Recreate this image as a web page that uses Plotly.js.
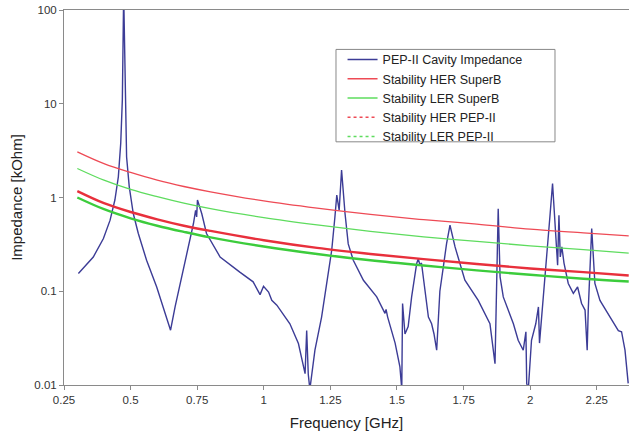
<!DOCTYPE html>
<html>
<head>
<meta charset="utf-8">
<script src="https://cdn.plot.ly/plotly-3.0.1.min.js"></script>
<style>html,body{margin:0;padding:0;background:#fff;}#chart{width:629px;height:436px;}</style>
</head>
<body>
<div id="chart"></div>
<script>
// PEP-II cavity impedance (GHz, kOhm)
var cavFreq = [0.304,0.36,0.398,0.423,0.441,0.454,0.463,0.469,0.474,0.4816,0.485,0.495,0.51,0.529,0.56,0.598,0.623,0.65,0.667,0.692,0.717,0.736,0.744,0.748,0.751,0.767,0.785,0.836,0.91,0.96,0.986,0.999,1.018,1.03,1.049,1.098,1.13,1.155,1.161,1.167,1.173,1.192,1.217,1.236,1.255,1.267,1.274,1.283,1.292,1.305,1.317,1.336,1.374,1.424,1.455,1.459,1.465,1.493,1.511,1.518,1.521,1.53,1.542,1.555,1.561,1.574,1.58,1.586,1.592,1.61,1.618,1.63,1.639,1.649,1.661,1.674,1.686,1.699,1.718,1.755,1.805,1.849,1.868,1.88,1.887,1.899,1.937,1.955,1.974,1.984,1.987,1.993,2.005,2.021,2.031,2.035,2.05,2.062,2.074,2.084,2.097,2.103,2.108,2.113,2.119,2.127,2.143,2.162,2.178,2.193,2.206,2.214,2.218,2.224,2.231,2.243,2.262,2.3,2.331,2.343,2.356,2.368];
var cavZ = [0.155,0.232,0.365,0.573,0.94,1.66,3.8,11,150,11,2.7,1.3,0.675,0.413,0.214,0.111,0.068,0.0384,0.068,0.142,0.297,0.528,0.73,0.62,0.94,0.675,0.413,0.232,0.16,0.126,0.092,0.113,0.098,0.08,0.071,0.045,0.0277,0.0132,0.038,0.013,0.009,0.0235,0.053,0.121,0.274,0.62,1.06,0.73,1.96,0.675,0.32,0.214,0.131,0.087,0.058,0.064,0.053,0.028,0.0156,0.009,0.074,0.035,0.042,0.087,0.111,0.198,0.223,0.19,0.2,0.087,0.053,0.045,0.035,0.0235,0.1,0.182,0.32,0.506,0.297,0.131,0.08,0.045,0.0169,0.76,0.142,0.087,0.045,0.03,0.0235,0.037,0.0104,0.009,0.03,0.045,0.068,0.028,0.1,0.232,0.62,1.41,0.413,0.19,0.647,0.232,0.297,0.2,0.121,0.095,0.111,0.074,0.063,0.0235,0.063,0.182,0.467,0.121,0.08,0.053,0.038,0.037,0.0235,0.0104];

// Stability thresholds (GHz, kOhm)
var stabFreq = [0.3,0.4,0.5,0.6,0.7,0.8,1.0,1.2,1.4,1.6,1.8,2.0,2.2,2.37];
var herSuperB = [3.07,2.3,1.85,1.53,1.31,1.15,0.92,0.77,0.66,0.58,0.52,0.46,0.42,0.39];
var lerSuperB = [2.04,1.53,1.22,1.02,0.87,0.76,0.61,0.51,0.435,0.38,0.34,0.305,0.278,0.255];
var herPEP = [1.17,0.87,0.70,0.585,0.50,0.44,0.35,0.29,0.25,0.22,0.195,0.175,0.16,0.147];
var lerPEP = [1.0,0.75,0.60,0.50,0.43,0.375,0.30,0.25,0.214,0.188,0.167,0.15,0.136,0.127];

var xTicks = [0.25,0.5,0.75,1,1.25,1.5,1.75,2,2.25];
var xTickText = ['0.25','0.5','0.75','1','1.25','1.5','1.75','2','2.25'];
var yTicks = [0.01,0.1,1,10,100];
var yTickText = ['0.01','0.1','1','10','100'];

var traces = [
  {x: cavFreq, y: cavZ, mode: 'lines', name: 'PEP-II Cavity Impedance', line: {color: '#3c3c96', width: 1.4}},
  {x: stabFreq, y: herSuperB, mode: 'lines', name: 'Stability HER SuperB', line: {color: '#ee4a55', width: 1.3, shape: 'spline'}},
  {x: stabFreq, y: lerSuperB, mode: 'lines', name: 'Stability LER SuperB', line: {color: '#5edc5e', width: 1.3, shape: 'spline'}},
  {x: stabFreq, y: herPEP, mode: 'lines', showlegend: false, line: {color: '#e8303c', width: 2.4, shape: 'spline'}},
  {x: stabFreq, y: lerPEP, mode: 'lines', showlegend: false, line: {color: '#3ccc3c', width: 2.4, shape: 'spline'}},
  {x: [null], y: [null], mode: 'lines', name: 'Stability HER PEP-II', line: {color: '#ee4a55', width: 1.3, dash: 'dot'}},
  {x: [null], y: [null], mode: 'lines', name: 'Stability LER PEP-II', line: {color: '#5edc5e', width: 1.3, dash: 'dot'}}
];

var layout = {
  width: 629, height: 436,
  margin: {l: 64, r: 0, t: 10, b: 51, pad: 0},
  paper_bgcolor: '#fff', plot_bgcolor: '#fff',
  font: {family: '"Liberation Sans", Arial, sans-serif', color: '#333'},
  showlegend: true,
  legend: {x: 0.493, y: 0.907, xanchor: 'left', yanchor: 'top', bgcolor: 'rgba(0,0,0,0)', borderwidth: 0,
    font: {size: 12.5, color: '#222'}, tracegroupgap: 0},
  shapes: [{type: 'rect', xref: 'paper', yref: 'paper', x0: 0.4814, x1: 0.8690, y0: 0.6485, y1: 0.8949,
    line: {color: '#888', width: 1}, fillcolor: '#fff', layer: 'above'}],
  xaxis: {
    range: [0.25, 2.371], tickmode: 'array', tickvals: xTicks, ticktext: xTickText,
    showgrid: false, zeroline: false, showline: true, linecolor: '#8a8a8a', linewidth: 1, mirror: true,
    ticks: 'outside', ticklen: 4, tickcolor: '#8a8a8a', tickfont: {size: 11.5, color: '#333'},
    title: {text: 'Frequency [GHz]', font: {size: 15, color: '#222'}, standoff: 12}
  },
  yaxis: {
    type: 'log', range: [-2, 2], tickmode: 'array', tickvals: yTicks, ticktext: yTickText,
    showgrid: false, zeroline: false, showline: true, linecolor: '#8a8a8a', linewidth: 1,
    ticks: 'outside', ticklen: 4, tickcolor: '#8a8a8a', tickfont: {size: 11.5, color: '#333'},
    title: {text: 'Impedance [kOhm]', font: {size: 15, color: '#222'}, standoff: 8}
  }
};

Plotly.newPlot('chart', traces, layout, {displayModeBar: false, staticPlot: true});
</script>
</body>
</html>
